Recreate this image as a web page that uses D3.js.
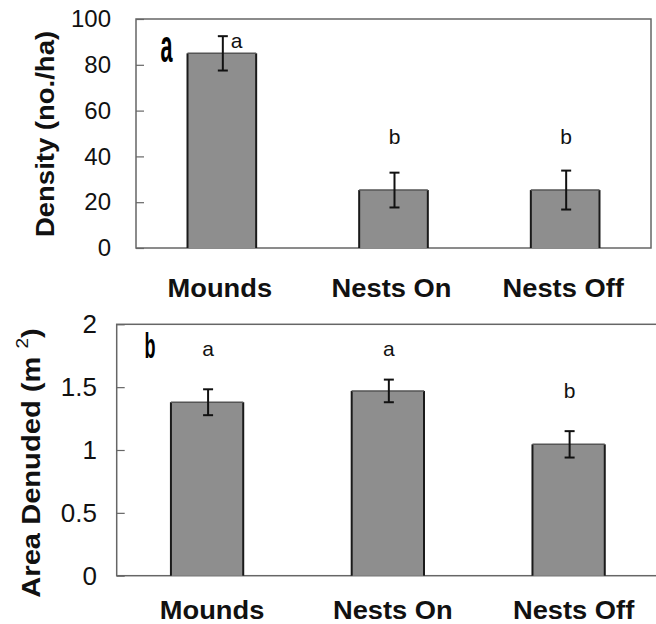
<!DOCTYPE html>
<html>
<head>
<meta charset="utf-8">
<script src="https://cdn.jsdelivr.net/npm/d3@7"></script>
<style>
  body { margin: 0; background: #fff; }
  text { font-family: "Liberation Sans", Arial, sans-serif; }
</style>
</head>
<body>
<div id="chart"></div>
<script>
var categories = ['Mounds', 'Nests On', 'Nests Off'];

var density = [85, 25.3, 25.3];
var densityErr = [7.5, 7.6, 8.5];
var densityLetters = ['a', 'b', 'b'];
var densityLetterY = [87.2, 45.3, 45.3];
var densityTicks = [0, 20, 40, 60, 80, 100];

var area = [1.38, 1.47, 1.045];
var areaErr = [0.103, 0.09, 0.105];
var areaLetters = ['a', 'a', 'b'];
var areaLetterY = [1.748, 1.748, 1.414];
var areaTicks = [0, 0.5, 1, 1.5, 2];

var svg = d3.select('#chart')
            .append('svg')
            .attr('width', 656)
            .attr('height', 624);

function draw_panel(opts) {
  var x = d3.scaleBand()
            .domain(categories)
            .range([opts.left, opts.right])
            .paddingInner(0.6)
            .paddingOuter(0.3);
  var y = d3.scaleLinear()
            .domain([0, opts.max])
            .range([opts.bottom, opts.top]);

  var g = svg.append('g');

  // frame
  g.append('rect')
   .attr('x', opts.left)
   .attr('y', opts.top)
   .attr('width', opts.right - opts.left)
   .attr('height', opts.bottom - opts.top)
   .attr('fill', 'none')
   .attr('stroke', '#666')
   .attr('stroke-width', 1.5);

  // left axis, ticks pointing inside
  var axis = g.append('g')
    .attr('transform', 'translate(' + opts.left + ',0)')
    .call(d3.axisRight(y).tickValues(opts.ticks).tickSize(8).tickFormat(d3.format('')));
  axis.select('.domain').remove();
  axis.selectAll('line').attr('stroke', '#666').attr('stroke-width', 1.2);
  axis.selectAll('text')
      .attr('x', opts.labelX - opts.left)
      .attr('text-anchor', 'end')
      .attr('fill', '#111')
      .style('font-size', opts.tickFont + 'px');

  // bars
  g.selectAll('.bar')
   .data(opts.values)
   .enter()
   .append('rect')
   .attr('x', function(d, i) { return x(categories[i]); })
   .attr('y', function(d) { return y(d); })
   .attr('width', x.bandwidth())
   .attr('height', function(d) { return y(0) - y(d); })
   .attr('fill', '#8e8e8e')
   .attr('stroke', 'none');

  // dark sides of the bars
  g.selectAll('.side')
   .data(opts.values.concat(opts.values))
   .enter()
   .append('line')
   .attr('x1', function(d, i) { var c = categories[i % 3]; return i < 3 ? x(c) : x(c) + x.bandwidth(); })
   .attr('x2', function(d, i) { var c = categories[i % 3]; return i < 3 ? x(c) : x(c) + x.bandwidth(); })
   .attr('y1', function(d) { return y(d); })
   .attr('y2', y(0))
   .attr('stroke', '#1a1a1a')
   .attr('stroke-width', 2);

  g.selectAll('.topedge')
   .data(opts.values)
   .enter()
   .append('line')
   .attr('x1', function(d, i) { return x(categories[i]); })
   .attr('x2', function(d, i) { return x(categories[i]) + x.bandwidth(); })
   .attr('y1', function(d) { return y(d); })
   .attr('y2', function(d) { return y(d); })
   .attr('stroke', '#555')
   .attr('stroke-width', 1.5);

  // error bars
  var cx = function(i) { return x(categories[i]) + x.bandwidth() / 2 + 1; };
  opts.values.forEach(function(v, i) {
    var e = opts.errors[i];
    var eg = g.append('g').attr('stroke', '#111').attr('stroke-width', 2);
    eg.append('line').attr('x1', cx(i)).attr('x2', cx(i)).attr('y1', y(v + e)).attr('y2', y(v - e));
    eg.append('line').attr('x1', cx(i) - 5).attr('x2', cx(i) + 5).attr('y1', y(v + e)).attr('y2', y(v + e));
    eg.append('line').attr('x1', cx(i) - 5).attr('x2', cx(i) + 5).attr('y1', y(v - e)).attr('y2', y(v - e));
  });

  // significance letters
  g.selectAll('.sig')
   .data(opts.letters)
   .enter()
   .append('text')
   .attr('x', function(d, i) {
     // beside the error bar when the letter would overlap it
     return opts.letterY[i] < opts.values[i] + opts.errors[i] ? cx(i) + 8 : cx(i);
   })
   .attr('y', function(d, i) { return y(opts.letterY[i]); })
   .attr('text-anchor', function(d, i) {
     return opts.letterY[i] < opts.values[i] + opts.errors[i] ? 'start' : 'middle';
   })
   .style('font-size', '21px')
   .attr('fill', '#111')
   .text(function(d) { return d; });

  // category labels
  g.selectAll('.cat')
   .data(categories)
   .enter()
   .append('text')
   .attr('transform', function(d) {
     return 'translate(' + (x(d) + x.bandwidth() / 2 + opts.catDx) + ',' + opts.catY + ') scale(1.05,1)';
   })
   .attr('text-anchor', 'middle')
   .style('font-size', '26px')
   .style('font-weight', 'bold')
   .attr('fill', '#111')
   .text(function(d) { return d; });

  // panel letter
  g.append('text')
   .attr('transform', 'translate(' + opts.panelX + ',' + opts.panelY + ') scale(' + opts.panelScale + ')')
   .attr('text-anchor', 'middle')
   .style('font-size', '24px')
   .style('font-weight', 'bold')
   .attr('fill', '#000')
   .text(opts.panel);

  return g;
}

var top_panel = draw_panel({
  left: 136, right: 651, top: 19, bottom: 248, max: 100,
  ticks: densityTicks, labelX: 111, tickFont: 24,
  values: density, errors: densityErr,
  letters: densityLetters, letterY: densityLetterY,
  catY: 297, catDx: -2, panel: 'a', panelX: 166.5, panelY: 62, panelScale: '0.9,1.9'
});

top_panel.append('text')
  .attr('transform', 'translate(54,134) rotate(-90) scale(1.1,1)')
  .attr('text-anchor', 'middle')
  .style('font-size', '25px')
  .style('font-weight', 'bold')
  .attr('fill', '#111')
  .text('Density (no./ha)');

var bottom_panel = draw_panel({
  left: 116.7, right: 659, top: 324.3, bottom: 575.7, max: 2,
  ticks: areaTicks, labelX: 97, tickFont: 26,
  values: area, errors: areaErr,
  letters: areaLetters, letterY: areaLetterY,
  catY: 619, catDx: 5, panel: 'b', panelX: 150, panelY: 358, panelScale: '0.75,1.5'
});

var area_title = bottom_panel.append('text')
  .attr('transform', 'translate(40,463) rotate(-90) scale(1.12,1)')
  .attr('text-anchor', 'middle')
  .style('font-size', '26px')
  .style('font-weight', 'bold')
  .attr('fill', '#111');
area_title.append('tspan').text('Area Denuded (m ');
area_title.append('tspan').attr('dy', -12).style('font-size', '17px').style('font-weight', 'normal').text('2');
area_title.append('tspan').attr('dy', 12).text(')');
</script>
</body>
</html>
